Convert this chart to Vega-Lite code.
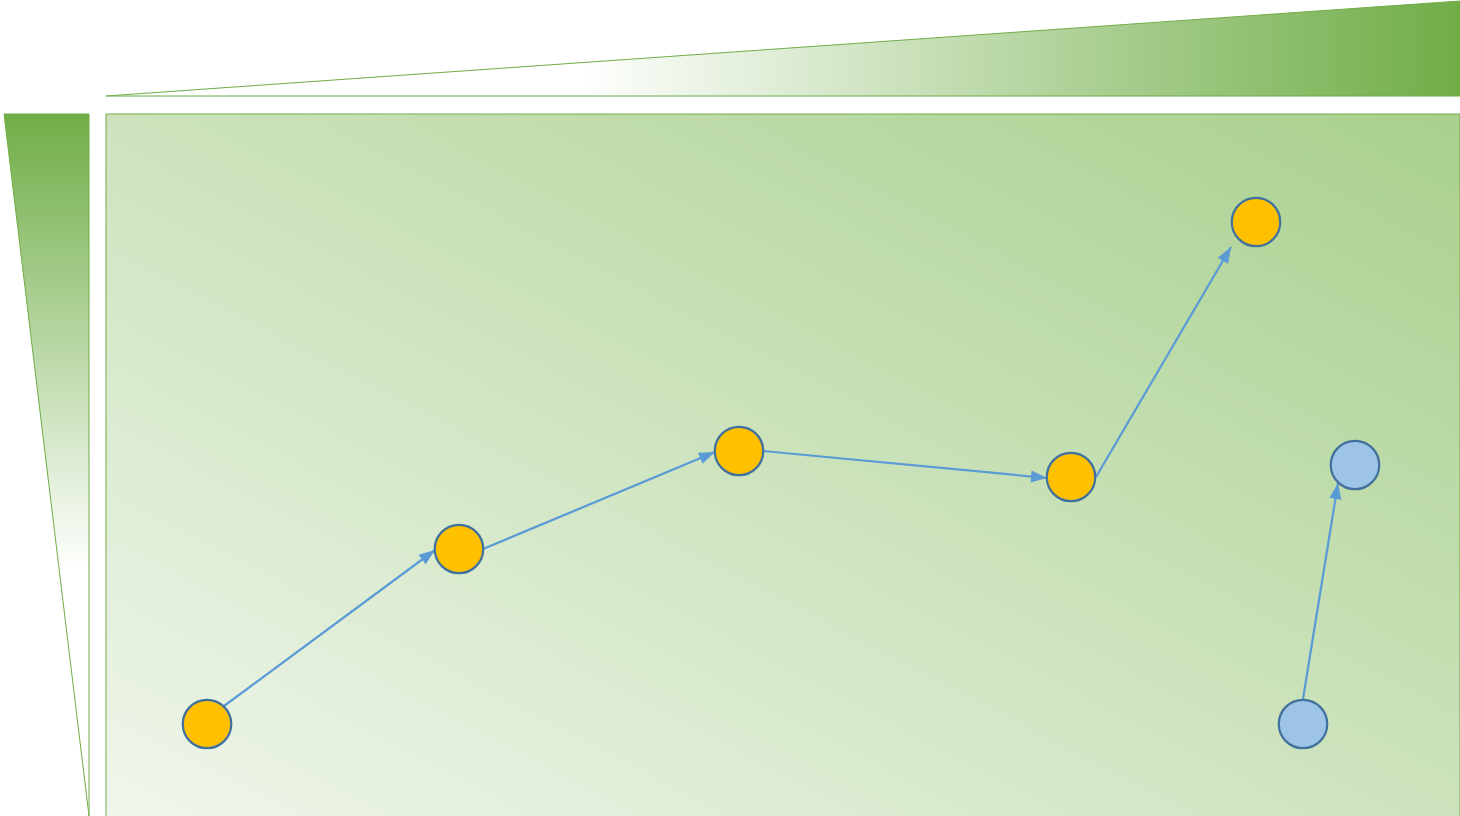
{
  "$schema": "https://vega.github.io/schema/vega-lite/v6.json",
  "width": 1460,
  "height": 816,
  "padding": 0,
  "autosize": {"type": "none"},
  "background": "white",
  "config": {"view": {"stroke": null}, "axis": {"disable": true}},
  "datasets": {
    "panel": [{"x": 106, "x2": 1460, "y": 114, "y2": 820}],
    "topWedge": [{"x": 106, "y": 96, "y2": 96}, {"x": 1460, "y": 1, "y2": 96}],
    "leftWedge": [{"y": 114, "x": 4, "x2": 89}, {"y": 816, "x": 89, "x2": 89}],
    "arrows": [
      {"x": 224, "y": 706, "x2": 435, "y2": 550},
      {"x": 483, "y": 549, "x2": 715, "y2": 452},
      {"x": 763, "y": 451, "x2": 1047, "y2": 478},
      {"x": 1096, "y": 477, "x2": 1231, "y2": 247},
      {"x": 1303, "y": 699, "x2": 1338, "y2": 483}
    ],
    "nodes": [
      {"x": 207, "y": 724, "kind": "main"},
      {"x": 459, "y": 549, "kind": "main"},
      {"x": 739, "y": 451, "kind": "main"},
      {"x": 1071, "y": 477, "kind": "main"},
      {"x": 1256, "y": 222, "kind": "main"},
      {"x": 1303, "y": 724, "kind": "other"},
      {"x": 1355, "y": 465, "kind": "other"}
    ]
  },
  "layer": [
    {
      "data": {"name": "panel"},
      "mark": {
        "type": "rect",
        "clip": true,
        "stroke": "#70AD47",
        "strokeWidth": 1,
        "fill": {
          "gradient": "linear",
          "x1": 0, "y1": 1, "x2": 1, "y2": 0,
          "stops": [
            {"offset": 0, "color": "#F0F6EC"},
            {"offset": 1, "color": "#A9D08E"}
          ]
        }
      },
      "encoding": {
        "x": {"field": "x", "type": "quantitative", "scale": {"domain": [0, 1460], "nice": false, "zero": false}, "axis": null},
        "x2": {"field": "x2"},
        "y": {"field": "y", "type": "quantitative", "scale": {"domain": [0, 816], "nice": false, "zero": false, "reverse": true}, "axis": null},
        "y2": {"field": "y2"}
      }
    },
    {
      "data": {"name": "topWedge"},
      "mark": {
        "type": "area",
        "orient": "vertical",
        "stroke": "#70AD47",
        "strokeWidth": 1,
        "fill": {
          "gradient": "linear",
          "x1": 0, "y1": 0, "x2": 1, "y2": 0,
          "stops": [
            {"offset": 0, "color": "#FFFFFF"},
            {"offset": 0.35, "color": "#FFFFFF"},
            {"offset": 1, "color": "#70AD47"}
          ]
        }
      },
      "encoding": {
        "x": {"field": "x", "type": "quantitative", "axis": null},
        "y": {"field": "y", "type": "quantitative", "axis": null, "stack": null},
        "y2": {"field": "y2"}
      }
    },
    {
      "data": {"name": "leftWedge"},
      "mark": {
        "type": "area",
        "orient": "horizontal",
        "stroke": "#70AD47",
        "strokeWidth": 1,
        "fill": {
          "gradient": "linear",
          "x1": 0, "y1": 0, "x2": 0, "y2": 1,
          "stops": [
            {"offset": 0, "color": "#70AD47"},
            {"offset": 0.65, "color": "#FFFFFF"},
            {"offset": 1, "color": "#FFFFFF"}
          ]
        }
      },
      "encoding": {
        "y": {"field": "y", "type": "quantitative", "axis": null},
        "x": {"field": "x", "type": "quantitative", "axis": null, "stack": null},
        "x2": {"field": "x2"}
      }
    },
    {
      "data": {"name": "arrows"},
      "mark": {"type": "rule", "color": "#5B9BD5", "strokeWidth": 2.25},
      "encoding": {
        "x": {"field": "x", "type": "quantitative", "axis": null},
        "y": {"field": "y", "type": "quantitative", "axis": null},
        "x2": {"field": "x2"},
        "y2": {"field": "y2"}
      }
    },
    {
      "data": {"name": "arrows"},
      "transform": [
        {"calculate": "sqrt(pow(datum.x2 - datum.x, 2) + pow(datum.y2 - datum.y, 2))", "as": "len"},
        {"calculate": "atan2(datum.x2 - datum.x, -(datum.y2 - datum.y)) * 180 / PI", "as": "ang"},
        {"calculate": "datum.x2 - 8 * (datum.x2 - datum.x) / datum.len", "as": "hx"},
        {"calculate": "datum.y2 - 8 * (datum.y2 - datum.y) / datum.len", "as": "hy"}
      ],
      "mark": {
        "type": "point",
        "shape": "M0,-1L0.75,1L-0.75,1Z",
        "filled": true,
        "color": "#5B9BD5",
        "opacity": 1,
        "size": 256
      },
      "encoding": {
        "x": {"field": "hx", "type": "quantitative", "axis": null},
        "y": {"field": "hy", "type": "quantitative", "axis": null},
        "angle": {"field": "ang", "type": "quantitative", "scale": null}
      }
    },
    {
      "data": {"name": "nodes"},
      "mark": {
        "type": "point",
        "shape": "circle",
        "filled": true,
        "opacity": 1,
        "size": 2350,
        "stroke": "#41719C",
        "strokeWidth": 2.25
      },
      "encoding": {
        "x": {"field": "x", "type": "quantitative", "axis": null},
        "y": {"field": "y", "type": "quantitative", "axis": null},
        "fill": {
          "field": "kind",
          "type": "nominal",
          "scale": {"domain": ["main", "other"], "range": ["#FFC000", "#9DC3E6"]},
          "legend": null
        }
      }
    }
  ]
}
